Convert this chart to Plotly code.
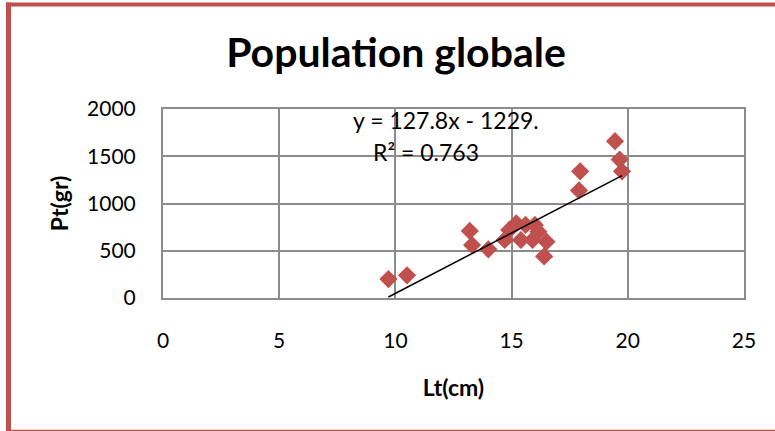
import plotly.graph_objects as go

# Data
lt_cm = [9.7, 10.5, 13.2, 13.3, 14.0, 14.7, 14.9, 15.2, 15.4, 15.6, 15.9, 16.0, 16.15, 16.5, 16.4, 17.9, 17.95, 19.45, 19.65, 19.75]
pt_gr = [200, 240, 710, 560, 515, 614, 720, 790, 614, 773, 614, 773, 702, 596, 440, 1138, 1340, 1660, 1465, 1340]

slope = 127.8
intercept = -1229.0
eq_text = "y = 127.8x - 1229."
r2_text = "R² = 0.763"

x_ticks = [0, 5, 10, 15, 20, 25]
y_ticks = [0, 500, 1000, 1500, 2000]

FONT = "Lato, Open Sans, sans-serif"
RED = "#C0504D"
GRID = "#8C8C8C"

x_min, x_max = min(lt_cm), max(lt_cm)
trend_x = [x_min, x_max]
trend_y = [slope * v + intercept for v in trend_x]

fig = go.Figure()
fig.add_trace(go.Scatter(
    x=lt_cm, y=pt_gr, mode="markers",
    marker=dict(symbol="diamond", size=14, color=RED, line=dict(width=0)),
    showlegend=False,
))
fig.add_trace(go.Scatter(
    x=trend_x, y=trend_y, mode="lines",
    line=dict(color="black", width=1.5), showlegend=False,
))

L, T, W, H = 163, 109, 581, 189

def px(xp):
    return (xp - L) / W

def py(yp):
    return 1 - (yp - T) / H

shapes = [
    dict(type="line", xref="paper", yref="paper", x0=px(8.5), x1=px(8.5), y0=py(2.5), y1=py(431),
         line=dict(color=RED, width=5)),
    dict(type="line", xref="paper", yref="paper", x0=px(6), x1=px(790), y0=py(4.5), y1=py(4.5),
         line=dict(color=RED, width=4)),
    dict(type="line", xref="paper", yref="paper", x0=px(6), x1=px(790), y0=py(430.5), y1=py(430.5),
         line=dict(color=RED, width=1.5)),
]

fig.update_layout(
    width=775, height=431,
    margin=dict(l=L, r=775 - L - W, t=T, b=431 - T - H),
    paper_bgcolor="white", plot_bgcolor="white",
    font=dict(family=FONT, color="black", size=21),
    title=dict(text="<b>Population globale</b>", x=396 / 775, xanchor="center", xref="container",
               y=1 - 53 / 431, yanchor="middle", yref="container",
               font=dict(family=FONT, size=41, color="black")),
    shapes=shapes,
    xaxis=dict(range=[0, 25], tickvals=x_ticks, showgrid=True, gridcolor=GRID, gridwidth=1.5,
               showline=True, linecolor=GRID, linewidth=2, mirror=True, zeroline=False,
               ticks="", ticklabelstandoff=23, tickfont=dict(size=21),
               title=dict(text="<b>Lt(cm)</b>", font=dict(size=23), standoff=29)),
    yaxis=dict(range=[0, 2000], tickvals=y_ticks, showgrid=True, gridcolor=GRID, gridwidth=1.5,
               showline=True, linecolor=GRID, linewidth=2, mirror=True, zeroline=False,
               ticks="", ticklabelstandoff=21, tickfont=dict(size=21),
               title=dict(text="<b>Pt(gr)</b>", font=dict(size=23), standoff=12)),
    annotations=[
        dict(text=eq_text, x=px(446), y=py(120), xref="paper", yref="paper",
             showarrow=False, font=dict(size=23), xanchor="center", yanchor="middle"),
        dict(text=r2_text, x=px(426), y=py(152), xref="paper", yref="paper",
             showarrow=False, font=dict(size=23), xanchor="center", yanchor="middle"),
    ],
)

fig.write_html("out.html")
